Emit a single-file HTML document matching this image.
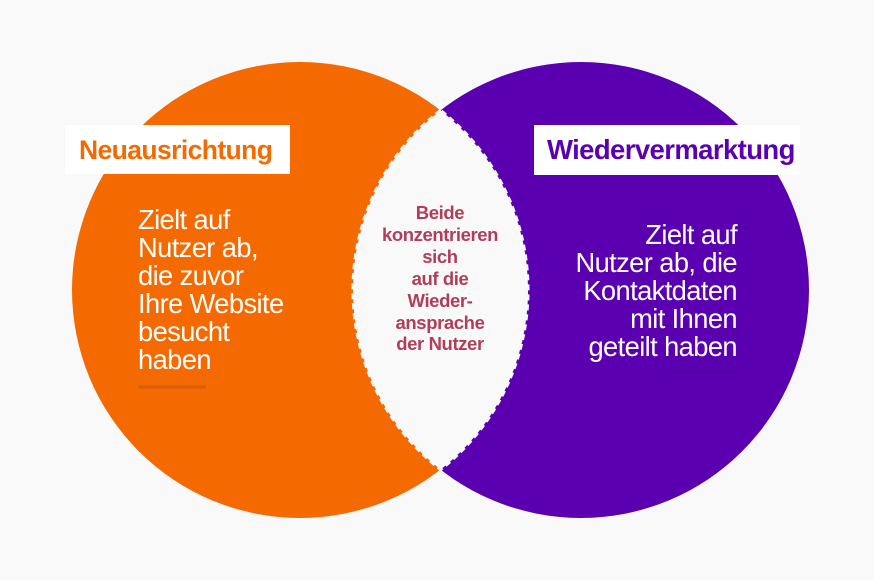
<!DOCTYPE html>
<html><head><meta charset="utf-8"><style>
html,body{margin:0;padding:0;background:#f9f9fa;}
body{width:874px;height:580px;position:relative;overflow:hidden;font-family:"Liberation Sans",sans-serif;}
svg{position:absolute;left:0;top:0;}
.box{position:absolute;background:#fff;font-weight:bold;line-height:50px;white-space:nowrap;}
.body{position:absolute;color:#fff;font-size:27.3px;line-height:28px;letter-spacing:-0.6px;white-space:nowrap;}
.mid{position:absolute;left:340px;width:200px;top:202px;text-align:center;font-weight:bold;font-size:18.5px;line-height:21.9px;letter-spacing:-0.4px;color:#b23d5a;}
</style></head><body>
<svg width="874" height="580">
<circle cx="300" cy="290" r="228" fill="#f46a00"/>
<circle cx="581" cy="290" r="228" fill="#5a00b0"/>
<path d="M440.5,110.4 A228,228 0 0 0 440.5,469.6 A228,228 0 0 0 440.5,110.4 Z" fill="#f9f9fa" stroke="#f9f9fa" stroke-width="3" stroke-dasharray="6 4"/>
<line x1="138" y1="387" x2="206" y2="387" stroke="#d85e0a" stroke-width="3"/>
<line x1="668" y1="372" x2="737" y2="372" stroke="#5200a0" stroke-width="3"/>
</svg>
<div class="box" style="left:65px;top:125px;width:225px;height:49px;color:#f46a00;font-size:26.5px;letter-spacing:-0.6px;"><span style="padding-left:14px">Neuausrichtung</span></div>
<div class="box" style="left:534px;top:125px;width:266px;height:50px;color:#5a00b0;font-size:27.5px;letter-spacing:-0.6px;"><span style="padding-left:13px">Wiedervermarktung</span></div>
<div class="body" style="left:138px;top:206px;">Zielt auf<br>Nutzer ab,<br>die zuvor<br>Ihre Website<br>besucht<br>haben</div>
<div class="body" style="left:500px;width:237px;top:221px;text-align:right;">Zielt auf<br>Nutzer ab, die<br>Kontaktdaten<br>mit Ihnen<br>geteilt haben</div>
<div class="mid">Beide<br>konzentrieren<br>sich<br>auf die<br>Wieder-<br>ansprache<br>der Nutzer</div>
</body></html>
